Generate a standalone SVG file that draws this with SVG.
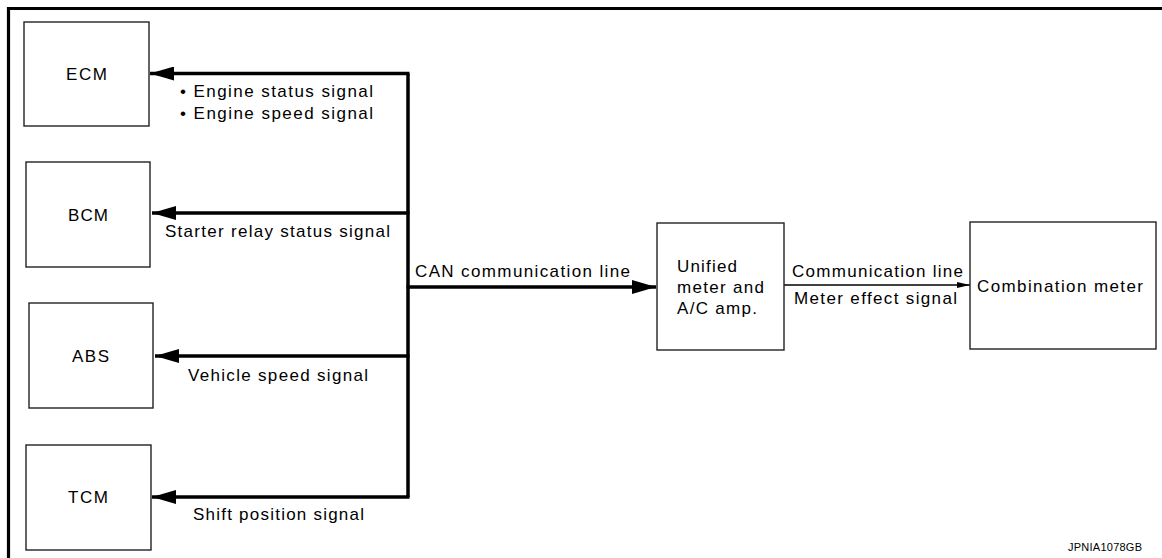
<svg xmlns="http://www.w3.org/2000/svg" width="1162" height="558" viewBox="0 0 1162 558">
<style>
  .box{fill:#fff;stroke:#222;stroke-width:1.4}
  .t{font-family:"Liberation Sans",Arial,Helvetica,sans-serif;font-size:17px;fill:#000}
  .s{font-family:"Liberation Sans",Arial,Helvetica,sans-serif;font-size:11px;fill:#000}
  .bus{fill:none;stroke:#000;stroke-width:3.5}
  .thin{fill:none;stroke:#000;stroke-width:1.3}
  .frame{fill:none;stroke:#000;stroke-width:3.2}
</style>
<defs>
  <marker id="big" markerUnits="userSpaceOnUse" markerWidth="26" markerHeight="14" refX="24" refY="7" orient="auto">
    <path d="M0,0 L24,7 L0,14 Z" fill="#000"/>
  </marker>
  <marker id="small" markerUnits="userSpaceOnUse" markerWidth="14" markerHeight="8" refX="13" refY="4" orient="auto">
    <path d="M0,1 L13,4 L0,7 Z" fill="#000"/>
  </marker>
</defs>
<rect width="1162" height="558" fill="#fff"/>
<path class="frame" d="M8.5,558 V8.5 H1162"/>

<g id="connectors">
  <path class="bus" d="M408,73.5 V497"/>
  <path class="bus" d="M409.5,73.5 H150" marker-end="url(#big)"/>
  <path class="bus" d="M409.5,213 H152" marker-end="url(#big)"/>
  <path class="bus" d="M409.5,356 H155" marker-end="url(#big)"/>
  <path class="bus" d="M409.5,497 H152" marker-end="url(#big)"/>
  <path class="bus" d="M406.5,287 H656" marker-end="url(#big)"/>
  <path class="thin" d="M784,285 H970" marker-end="url(#small)"/>
  <text class="t" x="180" y="97" textLength="193" lengthAdjust="spacing">• Engine status signal</text>
  <text class="t" x="180" y="119" textLength="193" lengthAdjust="spacing">• Engine speed signal</text>
  <text class="t" x="165" y="237" textLength="225" lengthAdjust="spacing">Starter relay status signal</text>
  <text class="t" x="188" y="381" textLength="180" lengthAdjust="spacing">Vehicle speed signal</text>
  <text class="t" x="193" y="520" textLength="171" lengthAdjust="spacing">Shift position signal</text>
  <text class="t" x="415" y="277" textLength="215" lengthAdjust="spacing">CAN communication line</text>
  <text class="t" x="792" y="277" textLength="171" lengthAdjust="spacing">Communication line</text>
  <text class="t" x="794" y="304" textLength="163" lengthAdjust="spacing">Meter effect signal</text>
</g>

<g id="ecm">
  <rect class="box" x="24" y="22" width="125" height="104"/>
  <text class="t" x="66" y="80" textLength="41" lengthAdjust="spacing">ECM</text>
</g>
<g id="bcm">
  <rect class="box" x="26" y="162" width="124" height="105"/>
  <text class="t" x="68" y="221" textLength="40" lengthAdjust="spacing">BCM</text>
</g>
<g id="abs">
  <rect class="box" x="29" y="303" width="124" height="105"/>
  <text class="t" x="72" y="362" textLength="37" lengthAdjust="spacing">ABS</text>
</g>
<g id="tcm">
  <rect class="box" x="26" y="445" width="125" height="105"/>
  <text class="t" x="68" y="503" textLength="40" lengthAdjust="spacing">TCM</text>
</g>
<g id="unified">
  <rect class="box" x="657" y="223" width="127" height="127"/>
  <text class="t" x="677" y="272" textLength="60" lengthAdjust="spacing">Unified</text>
  <text class="t" x="677" y="293" textLength="87" lengthAdjust="spacing">meter and</text>
  <text class="t" x="677" y="314" textLength="80" lengthAdjust="spacing">A/C amp.</text>
</g>
<g id="combination">
  <rect class="box" x="970" y="222" width="186" height="127"/>
  <text class="t" x="977" y="292" textLength="166" lengthAdjust="spacing">Combination meter</text>
</g>
<text class="s" x="1068" y="551" textLength="74" lengthAdjust="spacing">JPNIA1078GB</text>
</svg>
